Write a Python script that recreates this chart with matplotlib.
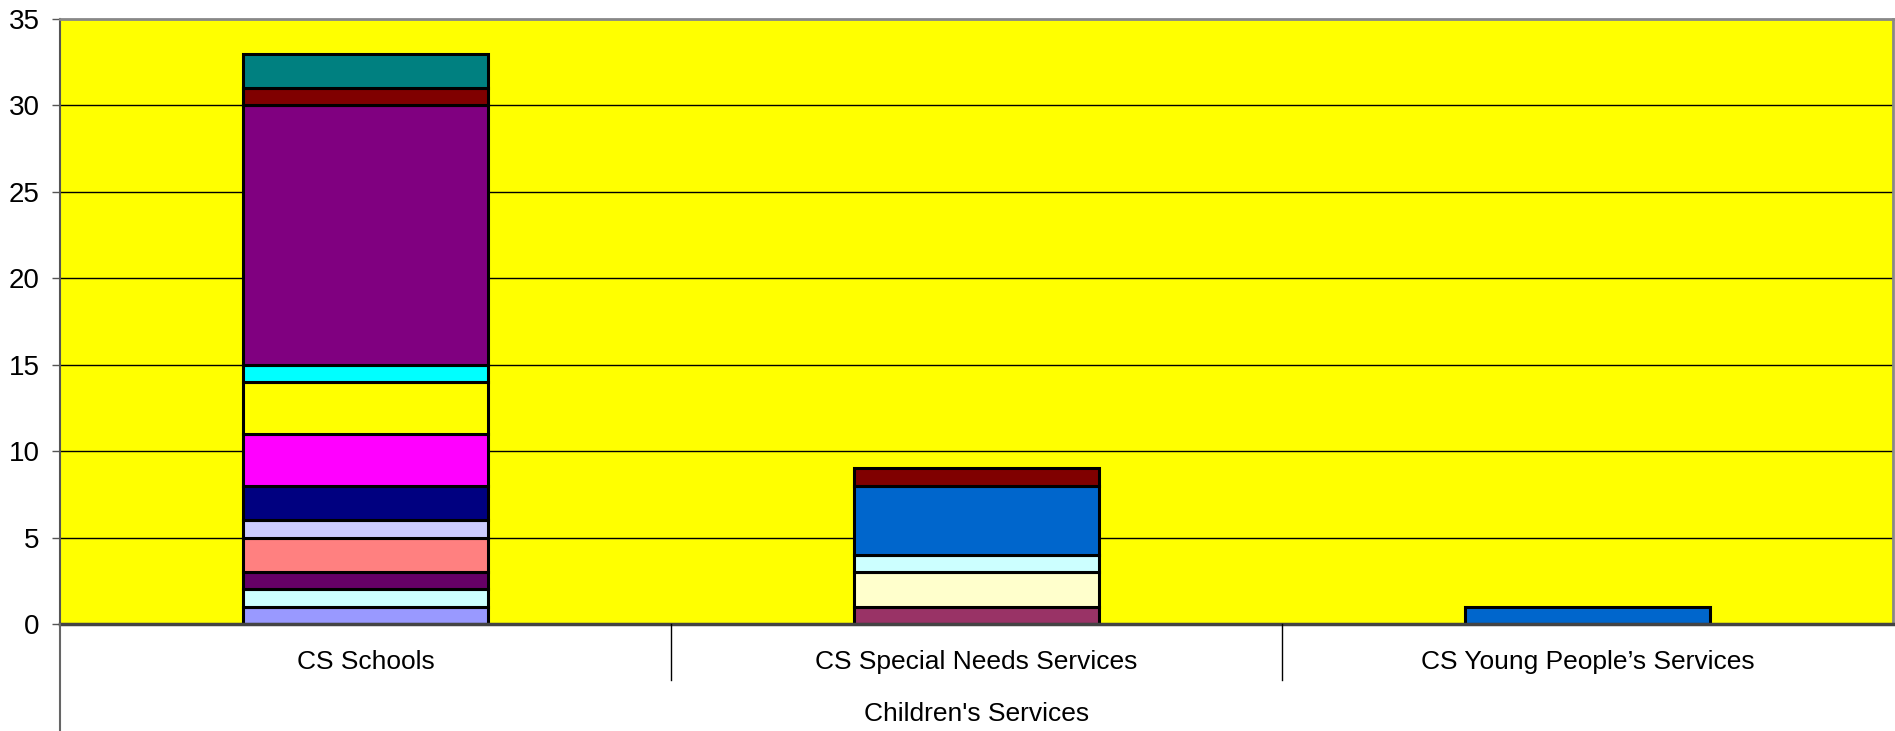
import numpy as np
import matplotlib.pyplot as plt
from matplotlib.lines import Line2D

plt.rcParams['font.family'] = ['Liberation Sans', 'DejaVu Sans']

categories = ["CS Schools", "CS Special Needs Services", "CS Young People\u2019s Services"]
group_label = "Children's Services"

# one series per stacked segment, in stacking order (bottom first)
series_colors = ['#9999FF', '#993366', '#FFFFCC', '#CCFFFF', '#660066',
                 '#FF8080', '#0066CC', '#CCCCFF', '#000080', '#FF00FF',
                 '#FFFF00', '#00FFFF', '#800080', '#800000', '#008080']
series_values = [
    [1, 0, 0],
    [0, 1, 0],
    [0, 2, 0],
    [1, 1, 0],
    [1, 0, 0],
    [2, 0, 0],
    [0, 4, 1],
    [1, 0, 0],
    [2, 0, 0],
    [3, 0, 0],
    [3, 0, 0],
    [1, 0, 0],
    [15, 0, 0],
    [1, 1, 0],
    [2, 0, 0],
]

W, H = 1895, 731
fig = plt.figure(figsize=(W / 100, H / 100), dpi=100)
ax = fig.add_axes([60 / W, (H - 624) / H, (1893 - 60) / W, (624 - 19) / H])
ax.set_facecolor('#FFFF00')

x = np.arange(len(categories))
bottom = np.zeros(len(categories))
for color, vals in zip(series_colors, series_values):
    vals = np.array(vals, dtype=float)
    mask = vals > 0
    ax.bar(x[mask], vals[mask], width=0.4, bottom=bottom[mask], color=color,
           edgecolor='black', linewidth=2.2, zorder=3)
    bottom += vals

ax.set_xlim(-0.5, len(categories) - 0.5)
ax.set_ylim(0, 35)
ax.set_yticks(range(0, 36, 5))
ax.tick_params(axis='y', labelsize=20, length=5.8, width=1, color='#555555', pad=9)
ax.set_xticks([])
for yv in range(5, 35, 5):
    ax.axhline(yv, color='black', linewidth=1, zorder=1)

for side in ['top', 'right']:
    ax.spines[side].set_color('#888888')
    ax.spines[side].set_linewidth(2)
ax.spines['left'].set_color('#555555')
ax.spines['left'].set_linewidth(1.5)
ax.spines['bottom'].set_color('#444444')
ax.spines['bottom'].set_linewidth(2.5)
ax.spines['bottom'].set_zorder(4)

# category labels and separators below the axis
for i, name in enumerate(categories):
    fig.text((60 + (i + 0.5) * (1833 / 3)) / W, (H - 662) / H, name,
             ha='center', va='center', fontsize=19)
for i in range(1, len(categories)):
    xs = (60 + i * (1833 / 3)) / W
    fig.add_artist(Line2D([xs, xs], [(H - 624) / H, (H - 680) / H],
                          color='black', linewidth=1, transform=fig.transFigure))
fig.add_artist(Line2D([60 / W, 60 / W], [(H - 624) / H, 0],
                      color='#666666', linewidth=1.5, transform=fig.transFigure))
fig.text((60 + 1833 / 2) / W, (H - 714) / H, group_label,
         ha='center', va='center', fontsize=19)

fig.savefig('out.png', dpi=100)
